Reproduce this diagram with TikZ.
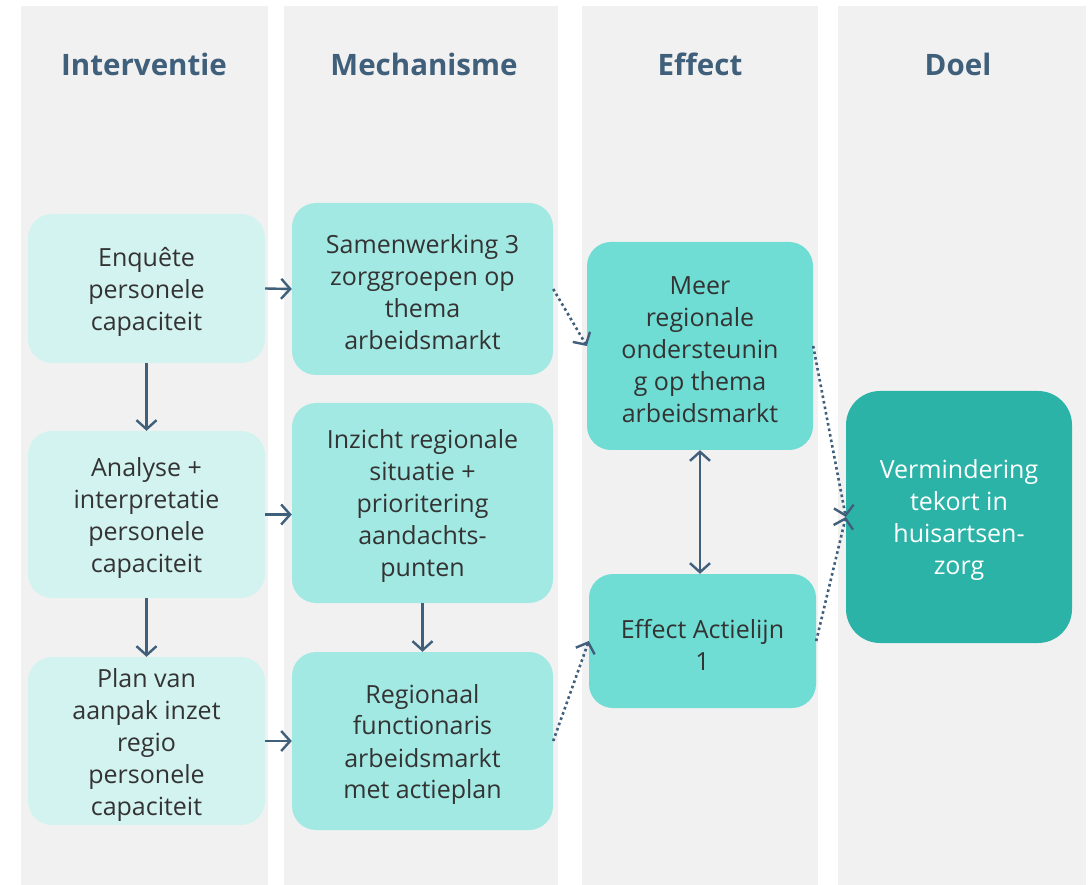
\documentclass[tikz,border=0pt]{standalone}
\usepackage{fontspec}
\setmainfont{Open Sans}
\usetikzlibrary{arrows.meta,calc}
\definecolor{bg}{HTML}{F1F1F1}
\definecolor{cA}{HTML}{D2F3F0}
\definecolor{cB}{HTML}{A3E9E3}
\definecolor{cC}{HTML}{6FDDD4}
\definecolor{cD}{HTML}{2BB3A8}
\definecolor{ink}{HTML}{3F5F7A}
\definecolor{txt}{HTML}{333333}
\newcommand\ts{\rule{0pt}{26pt}}
\tikzset{
  colbg/.style={fill=bg,draw=none},
  head/.style={text=ink,font=\fontsize{29.5}{34}\selectfont\bfseries},
  box/.style={draw=none,rounded corners=24pt,align=center,text=txt,
    font=\fontsize{25}{32}\selectfont,inner xsep=4pt,inner ysep=1pt},
  arr/.style={draw=ink,line width=2.4pt,-{Straight Barb[length=9pt,width=20pt,line width=2.4pt]}},
  darr/.style={draw=ink,line width=2.4pt,{Straight Barb[length=9pt,width=20pt,line width=2.4pt]}-{Straight Barb[length=9pt,width=20pt,line width=2.4pt]}},
  dot/.style={draw=ink,line width=2.6pt,dash pattern=on 2.6pt off 3pt,
    -{Straight Barb[length=9pt,width=20pt,line width=2.4pt]}},
}
\begin{document}
\begin{tikzpicture}[x=1pt,y=-1pt]
\useasboundingbox (0,0) rectangle (1088,885);
\fill[white] (0,0) rectangle (1088,885);
\path[colbg] (21,6) rectangle (268,885);
\path[colbg] (284,6) rectangle (558,885);
\path[colbg] (582,6) rectangle (818,885);
\path[colbg] (838,6) rectangle (1086,885);
\node[head] (h1) at (144,64) {Interventie};
\node[head] (h2) at (424,64) {Mechanisme};
\node[head] (h3) at (700,64) {Effect};
\node[head] (h4) at (958,64) {Doel};
% column 1
\node[box,fill=cA,minimum width=237pt,minimum height=149pt] (enq) at (146.5,288.5) {\ts Enquête\\personele\\capaciteit};
\node[box,fill=cA,minimum width=237pt,minimum height=167pt] (ana) at (146.5,514.5) {\ts Analyse +\\interpretatie\\personele\\capaciteit};
\node[box,fill=cA,minimum width=237pt,minimum height=168pt] (plan) at (146.5,741) {\ts Plan van\\aanpak inzet\\regio\\personele\\capaciteit};
% column 2
\node[box,fill=cB,minimum width=261pt,minimum height=172pt] (sam) at (422.5,289) {\ts Samenwerking 3\\zorggroepen op\\thema\\arbeidsmarkt};
\node[box,fill=cB,minimum width=261pt,minimum height=200pt] (ins) at (422.5,503) {\ts Inzicht regionale\\situatie +\\prioritering\\aandachts-\\punten};
\node[box,fill=cB,minimum width=261pt,minimum height=178pt] (reg) at (422.5,741) {\ts Regionaal\\functionaris\\arbeidsmarkt\\met actieplan};
% column 3
\node[box,fill=cC,minimum width=226pt,minimum height=208pt] (meer) at (700,346) {\ts Meer\\regionale\\ondersteunin\\g op thema\\arbeidsmarkt};
\node[box,fill=cC,minimum width=227pt,minimum height=134pt] (eff) at (702.5,641) {\ts Effect Actielijn\\1};
% column 4
\node[box,fill=cD,text=white,rounded corners=34pt,minimum width=226pt,minimum height=252pt] (verm) at (959,517) {\ts Vermindering\\tekort in\\huisartsen-\\zorg};
% connectors
\draw[arr] (enq.east) -- (sam.west);
\draw[arr] (ana.east) -- (ana.east -| ins.west);
\draw[arr] (plan.east) -- (plan.east -| reg.west);
\draw[arr] (enq.south) -- (ana.north);
\draw[arr] (ana.south) -- (plan.north);
\draw[arr] (ins.south) -- (reg.north);
\draw[darr] (meer.south) -- (meer.south |- eff.north);
\draw[dot] (sam.east) -- (meer.west);
\draw[dot] (reg.east) -- (eff.west);
\draw[dot] (meer.east) -- (verm.west);
\draw[dot] (eff.east) -- (verm.west);
\end{tikzpicture}
\end{document}
